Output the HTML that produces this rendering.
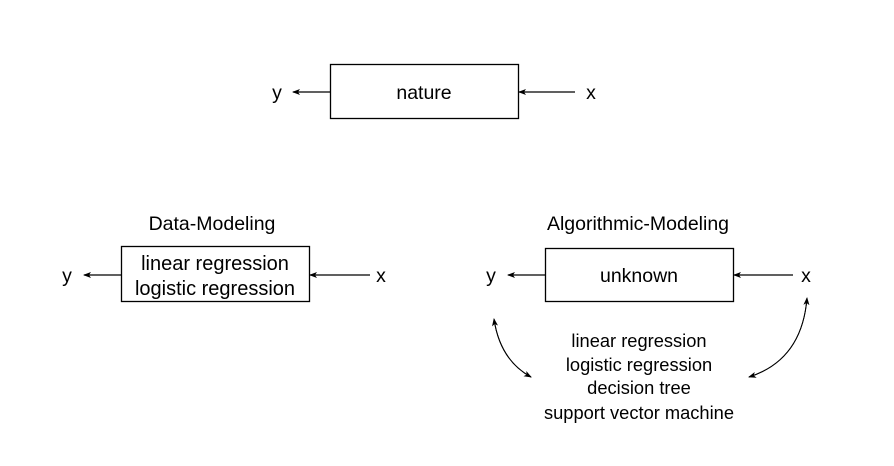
<!DOCTYPE html>
<html><head><meta charset="utf-8"><style>
html,body{margin:0;padding:0;background:#fff;}
svg{display:block;}
text{font-family:"Liberation Sans",sans-serif;fill:#000;}
</style></head><body>
<svg width="894" height="466" viewBox="0 0 894 466" xmlns="http://www.w3.org/2000/svg">
<defs>
<marker id="a" markerWidth="8" markerHeight="6" refX="7" refY="3" orient="auto" markerUnits="userSpaceOnUse">
<path d="M0,0 L8,3 L0,6 L2,3 Z" fill="#000"/></marker>
</defs>
<g stroke="#000" stroke-width="1.3" fill="none">
<rect x="330.5" y="64.5" width="188" height="54"/>
<line x1="330" y1="92" x2="293" y2="92" marker-end="url(#a)"/>
<line x1="575" y1="92" x2="519" y2="92" marker-end="url(#a)"/>
<rect x="121.5" y="246.5" width="188" height="55"/>
<line x1="121" y1="275" x2="84" y2="275" marker-end="url(#a)"/>
<line x1="370" y1="275" x2="310" y2="275" marker-end="url(#a)"/>
<rect x="545.5" y="248.5" width="188" height="53"/>
<line x1="545" y1="275" x2="508" y2="275" marker-end="url(#a)"/>
<line x1="793" y1="275" x2="734" y2="275" marker-end="url(#a)"/>
<path d="M531,377 Q500,360 494,319" marker-end="url(#a)" stroke-width="1"/>
<path d="M494,319 Q500,360 531,377" marker-end="url(#a)" stroke-width="1"/>
<path d="M749,377 Q802,360 807,298" marker-end="url(#a)" stroke-width="1"/>
<path d="M807,298 Q802,360 749,377" marker-end="url(#a)" stroke-width="1"/>
</g>
<g font-size="19.5" text-anchor="middle">
<text x="424" y="99">nature</text>
<text x="277" y="99">y</text>
<text x="591" y="99">x</text>
<text x="212" y="230">Data-Modeling</text>
<text x="215" y="270" font-size="20">linear regression</text>
<text x="215" y="295" font-size="20">logistic regression</text>
<text x="67" y="282">y</text>
<text x="381" y="282">x</text>
<text x="638" y="230">Algorithmic-Modeling</text>
<text x="639" y="282">unknown</text>
<text x="491" y="282">y</text>
<text x="806" y="282">x</text>
</g>
<g font-size="18.3" text-anchor="middle">
<text x="639" y="347">linear regression</text>
<text x="639" y="371">logistic regression</text>
<text x="639" y="394">decision tree</text>
<text x="639" y="419">support vector machine</text>
</g>
</svg>
</body></html>
